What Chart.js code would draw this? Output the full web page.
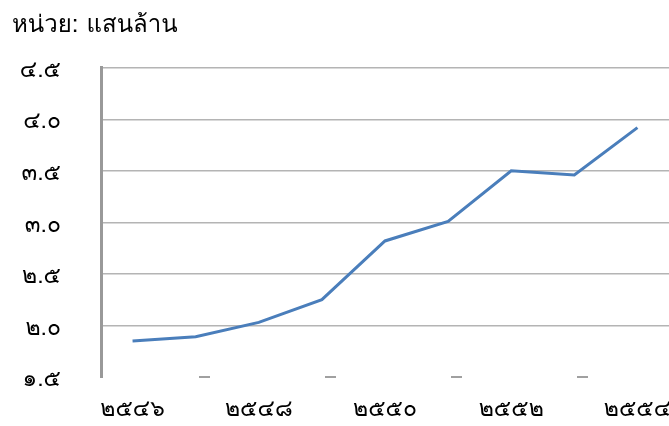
<!DOCTYPE html>
<html>
<head>
<meta charset="utf-8">
<script src="https://cdn.jsdelivr.net/npm/chart.js@4.4.1/dist/chart.umd.min.js"></script>
<style>
    body { margin: 0; background: #ffffff; }
    #wrap { width: 669px; height: 426px; position: relative; }
</style>
</head>
<body>
<div id="wrap"><canvas id="chart"></canvas></div>
<script>
// Years (Buddhist era, Thai digits)
const years = ['๒๕๔๖', '๒๕๔๗', '๒๕๔๘', '๒๕๔๙', '๒๕๕๐', '๒๕๕๑', '๒๕๕๒', '๒๕๕๓', '๒๕๕๔'];
// Values, unit: hundred-thousand million
const values = [1.85, 1.89, 2.03, 2.25, 2.82, 3.01, 3.50, 3.46, 3.92];
// Y tick labels from 1.5 to 4.5
const yTicks = [1.5, 2.0, 2.5, 3.0, 3.5, 4.0, 4.5];
const yTickLabels = ['๑.๕', '๒.๐', '๒.๕', '๓.๐', '๓.๕', '๔.๐', '๔.๕'];

const FONT = "Garuda, Laksaman, Loma, Tahoma, 'Noto Sans Thai Looped', 'Noto Sans Thai', 'Noto Sans', sans-serif";

document.addEventListener('DOMContentLoaded', function() {
    const ctx = document.getElementById('chart').getContext('2d');
    new Chart(ctx, {
        type: 'line',
        data: {
            labels: years,
            datasets: [{
                data: values,
                borderColor: '#4a7ebb',
                borderWidth: 3,
                pointRadius: 0,
                tension: 0,
                fill: false
            }]
        },
        options: {
            responsive: true,
            maintainAspectRatio: false,
            animation: false,
            layout: { padding: { left: 12, right: 0, top: 12, bottom: 0 } },
            plugins: {
                legend: { display: false },
                tooltip: { enabled: false },
                title: {
                    display: true,
                    text: 'หน่วย: แสนล้าน',
                    align: 'start',
                    color: '#000000',
                    font: { family: FONT, size: 24, weight: 'normal' },
                    padding: { top: 0, bottom: 27 }
                }
            },
            scales: {
                x: {
                    offset: true,
                    grid: { display: false, drawTicks: false },
                    border: { display: false },
                    afterFit: function(scale) {
                        scale.height = 49;
                        scale.paddingLeft = 0;
                        scale.paddingRight = 0;
                    },
                    ticks: {
                        autoSkip: false,
                        maxRotation: 0,
                        padding: 20,
                        color: '#000000',
                        font: { family: FONT, size: 23, weight: '300' },
                        callback: function(value, index) {
                            return index % 2 === 0 ? years[index] : '';
                        }
                    }
                },
                y: {
                    min: 1.5,
                    max: 4.5,
                    afterBuildTicks: function(scale) {
                        scale.ticks = yTicks.map(v => ({ value: v }));
                    },
                    afterFit: function(scale) {
                        scale.width = 89;
                        scale.paddingTop = 0;
                        scale.paddingBottom = 0;
                    },
                    grid: {
                        drawTicks: false,
                        lineWidth: function(c) {
                            return c.tick && c.tick.value === 1.5 ? 2 : 1.5;
                        },
                        color: function(c) {
                            return c.tick && c.tick.value === 1.5 ? '#a0a0a0' : '#b4b4b4';
                        }
                    },
                    border: {
                        display: true,
                        color: '#999999',
                        width: 3,
                        // the base line is only visible as short dashes
                        dash: function(c) {
                            return c.tick && c.tick.value === 1.5 ? [11, 115] : [];
                        },
                        dashOffset: function(c) {
                            return c.tick && c.tick.value === 1.5 ? 30 : 0;
                        }
                    },
                    ticks: {
                        padding: 40,
                        labelOffset: 4,
                        color: '#000000',
                        font: { family: FONT, size: 23, weight: '300' },
                        callback: function(value) {
                            const i = yTicks.indexOf(value);
                            return i >= 0 ? yTickLabels[i] : '';
                        }
                    }
                }
            }
        }
    });
});
</script>
</body>
</html>
